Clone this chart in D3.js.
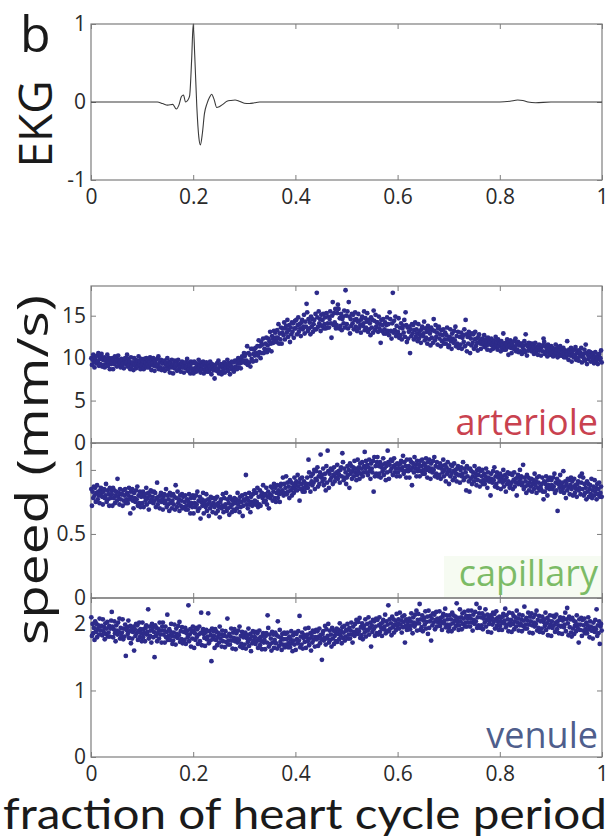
<!DOCTYPE html>
<html><head><meta charset="utf-8">
<script src="https://cdn.jsdelivr.net/npm/d3@7"></script>
<style>body{margin:0;background:#fff}svg{display:block}text{font-family:"Open Sans",sans-serif}</style>
</head><body>
<svg id="chart" width="610" height="838"></svg>
<script>
// ---------- data ----------
const xTicks = [0, 0.2, 0.4, 0.6, 0.8, 1];
const xTickLabels = ["0", "0.2", "0.4", "0.6", "0.8", "1"];
const ekgTicks = [-1, 0, 1];
const arterioleTicks = [0, 5, 10, 15];
const capillaryTicks = [0, 0.5, 1];
const venuleTicks = [0, 1, 2];

const ekgPhase = [0, 0.10, 0.13, 0.14, 0.15, 0.16, 0.167, 0.172, 0.177, 0.181, 0.185, 0.189, 0.193, 0.197, 0.200, 0.203, 0.207, 0.211, 0.214, 0.218, 0.222, 0.227, 0.232, 0.236, 0.241, 0.246, 0.251, 0.258, 0.266, 0.274, 0.282, 0.29, 0.30, 0.31, 0.32, 0.33, 0.36, 0.5, 0.7, 0.8, 0.82, 0.835, 0.845, 0.855, 0.87, 0.9, 1.0];
const ekgValue = [0, 0, 0, -0.02, -0.04, -0.03, -0.09, -0.04, 0.07, 0.09, 0.0, 0.02, 0.08, 0.55, 1.0, 0.6, -0.05, -0.45, -0.55, -0.4, -0.15, -0.02, 0.06, 0.1, 0.03, -0.07, -0.06, -0.03, 0.01, 0.02, 0.025, 0.01, -0.015, -0.02, -0.01, 0, 0, 0, 0, 0, 0.01, 0.025, 0.02, 0.0, -0.01, 0, 0];

// speed samples (mm/s), one row per 1/50 of the heart cycle
const arterioleSpeed = [
[10.0,9.2,9.8,10.4,9.5,8.9,10.1,9.7,9.4,10.3,9.6,10.6,9.1,9.9,9.3,10.2],
[10.5,9.0,9.8,9.2,10.1,8.9,9.7,9.9,9.4,10.4,9.1,9.6,10.0,8.7,9.8,9.3],
[9.6,10.0,8.7,9.8,9.3,10.2,9.5,10.1,9.0,9.7,10.3,9.2,9.8,9.5,8.9,9.9],
[9.1,9.7,9.4,8.8,9.8,10.0,9.3,9.5,10.4,9.0,9.9,9.2,9.6,8.7,10.1,9.3],
[9.1,9.5,8.6,10.0,9.2,9.8,8.8,9.4,9.7,9.0,10.2,9.3,9.6,8.7,9.9,9.1],
[9.3,9.6,8.7,9.9,9.1,9.5,10.0,8.9,9.2,9.7,8.9,9.5,10.1,9.2,8.6,9.8],
[9.4,10.0,9.1,8.5,9.7,9.3,9.0,9.9,9.2,10.2,8.7,9.5,8.9,9.8,8.6,9.4],
[9.4,8.8,9.7,8.5,9.3,9.5,9.0,10.0,8.7,9.2,9.6,8.3,9.4,8.9,9.8,9.1],
[8.2,9.3,8.8,9.7,9.0,9.6,8.5,9.2,9.8,8.7,9.3,9.0,8.4,9.4,9.6,8.9],
[8.9,8.3,9.3,9.5,8.8,9.0,9.9,8.5,9.4,8.7,9.1,8.2,9.6,8.8,9.4,8.4],
[8.2,9.6,8.8,9.4,8.4,9.0,9.3,8.6,9.8,8.9,9.2,8.3,9.5,8.7,9.1,9.6],
[8.2,9.4,8.6,9.0,9.5,8.4,8.7,9.2,8.4,9.0,9.6,8.7,8.1,9.3,8.9,8.6],
[8.6,7.6,9.2,8.8,8.5,9.4,8.7,9.7,8.2,9.0,8.4,9.3,8.1,8.9,9.1,8.6],
[9.5,8.3,9.1,9.3,8.8,9.8,8.5,9.0,9.4,8.1,9.2,8.7,9.6,8.9,9.5,8.4],
[8.8,9.7,9.0,9.6,8.7,9.4,10.0,8.9,9.7,9.4,8.8,9.8,10.2,9.5,9.7,10.6],
[10.2,10.5,9.4,9.7,11.4,9.2,10.6,9.5,10.4,9.0,11.1,9.9,11.1,9.6,10.5,11.0],
[10.3,11.2,9.7,10.6,11.4,10.3,12.1,10.7,11.4,10.0,11.9,10.6,11.6,12.3,10.6,11.1],
[11.0,11.7,12.4,10.7,11.5,12.3,11.0,12.0,13.1,11.7,10.8,12.6,12.3,11.8,13.2,12.1],
[13.0,12.4,11.9,13.3,12.4,14.0,11.7,12.9,12.2,13.6,11.7,13.0,13.5,12.7,14.2,12.2],
[13.5,13.8,13.0,14.5,12.5,13.3,13.9,11.9,13.6,12.8,14.2,13.1,14.1,12.4,13.5,14.4],
[13.5,14.5,12.8,13.9,14.8,13.1,14.0,13.5,12.6,14.2,14.5,13.4,13.7,15.1,12.9,14.3],
[13.7,16.4,15.4,13.2,14.6,13.5,14.2,12.8,14.9,13.7,14.6,13.1,14.0,14.5,13.4,15.2],
[13.4,17.7,14.8,13.7,15.5,14.1,14.6,13.2,15.1,13.8,14.5,15.2,13.5,14.0,14.8,13.5],
[15.3,13.6,14.1,14.9,13.6,14.6,15.5,14.1,12.4,15.0,16.6,13.9,15.3,14.2,15.8,13.5],
[13.9,15.3,16.3,15.8,13.5,14.7,13.8,15.2,13.3,14.6,14.9,14.1,15.6,13.6,18.0,15.0],
[14.0,15.5,13.5,16.6,14.9,12.9,14.6,13.8,15.2,14.1,15.1,13.4,14.5,15.4,13.7,14.6],
[13.2,14.3,15.2,13.5,14.4,13.9,13.0,14.6,14.9,13.8,14.1,15.5,13.3,14.7,13.6,14.3],
[15.3,13.1,14.5,13.4,14.1,12.7,14.8,13.6,14.5,13.0,15.6,14.4,13.3,15.1,13.7,14.2],
[14.2,13.1,14.9,13.5,14.0,11.8,14.5,13.2,13.9,14.6,12.9,13.4,14.2,12.9,13.9,14.8],
[13.2,14.0,12.7,15.4,14.6,13.2,12.3,14.1,17.7,13.0,14.4,13.3,14.9,12.6,13.8,12.9],
[13.1,14.7,12.4,13.6,12.7,14.1,12.2,13.5,13.8,13.0,14.5,12.5,15.4,13.9,11.9,13.6],
[12.3,13.1,13.7,10.6,13.4,12.6,14.0,12.9,13.9,12.2,13.3,14.2,12.5,13.4,12.9,12.0],
[14.0,12.3,13.2,12.7,11.8,13.4,13.7,12.6,12.9,14.3,12.1,13.5,12.4,13.1,11.7,13.8],
[13.3,12.2,12.9,11.5,13.6,12.4,13.3,11.8,14.6,13.2,12.1,13.9,12.5,13.0,11.6,13.5],
[13.7,12.3,12.8,11.4,13.3,12.0,12.7,13.4,11.7,12.2,13.0,11.7,12.7,13.6,12.2,11.3],
[11.5,12.5,13.4,12.0,11.1,12.9,12.3,11.8,13.2,12.1,13.7,11.4,12.6,11.7,13.1,11.2],
[11.3,12.5,11.6,13.0,11.1,12.4,12.7,11.9,13.4,11.4,14.5,12.8,10.8,12.5,11.7,13.1],
[12.6,10.6,12.3,11.5,12.9,11.8,12.8,11.1,12.2,13.1,11.4,12.3,11.8,10.9,12.5,12.8],
[12.0,11.7,11.1,12.1,12.3,11.6,11.8,12.7,11.3,12.2,11.5,11.9,11.0,12.4,11.6,12.2],
[11.8,10.9,12.3,11.5,12.1,11.1,11.7,12.0,11.3,12.5,11.6,11.9,11.0,12.2,11.4,11.8],
[11.7,10.8,12.0,11.2,11.6,12.9,11.0,11.3,11.8,11.0,11.6,12.2,11.3,10.4,11.9,11.5],
[12.1,11.2,10.6,11.8,11.4,11.1,12.0,11.3,12.3,10.8,11.6,11.0,11.9,10.7,11.5,11.7],
[10.8,11.7,10.5,11.3,11.5,11.0,12.0,10.7,12.8,11.6,10.3,11.4,10.9,11.8,11.1,11.7],
[11.3,10.8,11.7,11.0,11.6,10.5,11.2,11.8,10.7,11.3,11.0,10.4,11.4,11.6,10.9,11.1],
[10.3,11.3,11.5,10.8,12.3,11.9,10.5,11.4,10.7,11.1,10.2,11.6,10.8,11.4,10.4,11.0],
[11.4,10.6,11.2,10.2,10.8,11.1,10.4,11.6,10.7,11.0,10.1,11.3,10.5,10.9,11.4,10.3],
[11.1,10.3,10.7,11.2,10.1,10.4,10.9,10.1,10.7,12.0,10.4,9.8,11.0,10.6,10.3,11.2],
[9.6,10.8,10.4,10.1,11.0,10.3,11.3,9.8,10.6,10.0,10.9,9.7,10.5,10.7,10.2,11.2],
[9.5,10.3,10.5,10.0,11.0,9.7,11.6,10.6,9.3,10.4,9.9,10.8,10.1,10.7,9.6,10.3],
[10.6,9.9,10.5,9.4,10.1,10.7,9.6,10.2,9.9,9.3,10.3,10.5,9.8,10.0,10.9,9.5]
];

const capillarySpeed = [
[.85,.72,.83,.78,.87,.80,.86,.75,.82,.88,.77,.83,.80,.74,.84,.86],
[.82,.79,.73,.83,.85,.78,.80,.89,.75,.84,.77,.81,.72,.86,.78,.84],
[.81,.72,.86,.78,.84,.74,.80,.83,.76,.93,.79,.82,.73,.85,.77,.81],
[.81,.72,.84,.76,.80,.85,.74,.77,.82,.74,.80,.86,.77,.66,.83,.79],
[.85,.76,.70,.82,.78,.75,.84,.77,.87,.72,.80,.74,.83,.71,.79,.81],
[.74,.83,.71,.79,.81,.76,.86,.73,.78,.82,.69,.80,.75,.84,.77,.83],
[.79,.74,.83,.76,.82,.71,.78,.90,.73,.79,.76,.70,.80,.82,.75,.77],
[.69,.79,.81,.74,.76,.85,.71,.80,.73,.77,.68,.82,.74,.80,.70,.76],
[.81,.73,.79,.69,.88,.78,.71,.83,.74,.77,.68,.80,.72,.76,.81,.70],
[.79,.71,.75,.80,.69,.72,.77,.69,.75,.81,.72,.66,.78,.74,.71,.80],
[.66,.78,.74,.71,.80,.73,.83,.68,.76,.70,.79,.62,.75,.77,.72,.82],
[.66,.74,.76,.71,.81,.68,.73,.77,.64,.75,.70,.79,.72,.78,.67,.74],
[.78,.71,.77,.66,.73,.79,.68,.74,.71,.63,.75,.77,.70,.72,.81,.67],
[.78,.71,.73,.82,.68,.77,.70,.74,.65,.79,.71,.77,.67,.73,.76,.69],
[.78,.68,.74,.77,.70,.82,.73,.76,.67,.79,.71,.75,.80,.64,.72,.77],
[.76,.81,.96,.73,.78,.70,.76,.82,.73,.67,.79,.75,.72,.81,.74,.84],
[.76,.73,.82,.75,.86,.71,.79,.73,.84,.72,.80,.82,.78,.88,.75,.80],
[.81,.76,.86,.73,.79,.83,.70,.81,.78,.87,.80,.86,.76,.83,.89,.78],
[.86,.75,.82,.88,.78,.84,.81,.75,.87,.89,.82,.84,.94,.80,.89,.82],
[.86,.95,.81,.90,.83,.87,.78,.92,.84,.90,.80,.86,.89,.82,.94,.85],
[.88,.91,.84,.96,.87,.90,.76,.93,.85,.89,.94,.83,.86,.91,.83,.89],
[.86,.89,.94,.86,1.08,.98,.89,.83,.95,.91,.88,.97,.90,1.00,.85,.93],
[.99,.92,1.02,.87,.95,.89,.98,1.12,.94,.96,.91,1.01,.88,.93,.97,.84],
[1.03,.90,1.15,.99,.86,.97,.92,1.01,.94,1.00,.89,.96,1.02,.91,.97,.94],
[.98,1.04,.93,.99,.96,.90,1.00,1.02,.95,1.13,1.06,.92,1.01,.94,.98,.89],
[.94,1.03,.96,1.00,.86,1.05,.97,1.03,.93,.99,1.02,.95,1.07,.98,1.01,.92],
[.96,1.08,.99,1.02,.93,1.05,.97,1.01,1.06,.95,.98,1.03,1.14,1.01,1.07,.98],
[1.04,.96,1.02,1.08,.99,.93,1.05,1.01,.98,1.07,.83,1.10,.95,1.03,.97,1.06],
[1.10,.95,1.03,.97,1.06,.94,1.02,1.04,.99,1.09,.96,1.01,1.05,.92,1.03,.98],
[1.15,1.06,.93,1.04,.99,1.08,1.01,1.07,.96,1.03,1.09,.98,1.04,1.01,.95,1.05],
[.98,1.04,1.01,.95,1.05,1.07,1.00,1.02,1.11,.97,1.06,.99,1.03,.94,1.08,1.00],
[.99,1.03,.94,1.08,1.00,1.06,.88,1.02,1.05,.98,1.10,1.01,1.04,.95,1.07,.99],
[1.01,1.04,.95,1.07,.99,1.03,1.08,.97,1.00,1.05,.97,1.03,1.09,1.00,.94,1.06],
[1.02,1.08,.99,.93,1.05,1.01,.98,1.07,1.00,1.10,.95,1.03,.97,1.06,.94,1.02],
[1.02,.96,1.05,.93,1.01,1.03,.98,1.08,.95,1.00,1.04,.91,1.02,.97,1.06,.99],
[.89,1.00,.95,1.04,.97,1.03,.92,.99,1.05,.94,1.00,.97,.91,1.01,1.03,.96],
[.96,.90,1.00,1.02,.95,.97,1.06,.92,1.01,.94,.98,.84,1.03,.95,1.01,.91],
[.83,1.01,.93,.99,.89,.95,.98,.91,1.03,.94,.97,.88,1.00,.92,.96,1.01],
[.87,.99,.91,.95,1.00,.89,.92,.97,.89,.95,1.01,.92,.86,.98,.94,.91],
[.91,.80,.97,.93,.90,.99,.92,1.02,.87,.95,.89,.98,.86,.94,.96,.91],
[.97,.85,.93,.95,.90,1.00,.87,.92,.96,.83,.94,.89,.98,.91,.97,.86],
[.88,.97,.90,.96,.85,.92,.98,.87,.93,.90,.80,.94,.96,.89,.91,1.00],
[.93,.95,.88,.90,1.04,.85,.94,.87,.91,.82,.96,.88,.94,.84,.90,.93],
[.87,.93,.83,.89,.92,.85,.97,.88,.91,.82,.94,.86,.90,.95,.84,.87],
[.85,.89,.94,.83,.77,.91,.83,.89,.95,.86,.80,.92,.88,.85,.94,.87],
[.92,.88,.85,.94,.87,.97,.82,.90,.84,.93,.68,.89,.91,.86,.96,.83],
[.88,.90,.85,.99,.82,.87,.91,.78,.89,.84,.93,.86,.92,.81,.88,.94],
[.85,.91,.80,.87,.93,.82,.88,.85,.79,.89,.91,.84,.86,.95,.81,.90],
[.97,.85,.94,.80,.89,.82,.86,.77,.91,.83,.89,.79,.85,.88,.81,.93],
[.78,.84,.87,.80,.92,.83,.86,.77,.89,.81,.85,.90,.79,.82,.87,.79]
];

const venuleSpeed = [
[2.10,1.82,2.00,1.86,1.94,1.76,2.04,1.88,2.00,1.80,1.92,1.98,1.84,2.08,1.90,1.96],
[1.97,1.83,2.07,1.89,1.95,1.77,2.01,1.85,1.93,2.03,1.81,1.87,1.97,1.81,1.93,2.05],
[2.18,1.96,1.80,1.92,2.04,1.86,1.74,1.98,1.90,1.84,2.02,1.88,2.08,1.78,1.94,1.82],
[1.87,2.07,1.77,1.93,1.81,1.99,1.52,1.91,1.95,1.85,2.05,1.79,1.89,1.97,1.71,1.93],
[1.78,1.88,1.96,1.60,1.92,1.82,2.00,1.86,1.98,1.76,1.90,2.02,1.80,1.92,1.86,1.74],
[2.02,1.80,1.92,1.86,1.74,1.94,1.98,1.84,1.88,2.22,1.78,1.96,1.82,1.90,1.72,2.00],
[1.94,1.80,1.88,1.50,1.98,1.82,1.94,1.74,1.86,1.92,1.78,2.02,1.84,1.90,1.72,1.96],
[2.02,1.84,1.90,1.72,1.96,1.80,1.88,2.14,1.76,1.82,1.92,1.76,1.88,2.00,1.82,1.70],
[1.75,1.87,1.99,1.81,1.69,1.93,1.85,1.79,1.97,1.83,2.03,1.73,1.89,1.77,1.95,1.71],
[1.72,1.88,1.76,1.94,1.70,1.86,1.90,1.80,2.28,1.74,1.84,1.92,1.66,1.88,1.78,1.96],
[1.90,1.64,1.86,1.76,1.94,1.80,1.92,1.70,1.84,1.96,1.74,1.86,2.17,1.68,1.88,1.92],
[1.85,1.79,1.67,1.87,1.91,1.77,1.81,2.16,1.71,1.89,1.75,1.83,1.44,1.93,1.77,1.89],
[1.82,1.64,1.92,1.76,1.88,1.68,1.80,1.86,1.72,1.96,1.78,1.84,1.66,1.90,1.74,1.82],
[1.83,1.65,1.89,1.73,1.81,2.08,1.69,1.75,1.85,1.69,1.81,1.93,1.75,1.63,1.87,1.79],
[1.92,1.74,1.62,1.86,1.78,1.72,1.90,1.76,1.96,1.66,1.82,1.70,1.88,1.64,1.80,1.84],
[1.69,1.87,1.63,1.79,1.83,1.73,1.93,1.67,1.77,1.85,1.59,1.81,1.71,1.89,1.75,1.87],
[1.80,1.70,1.88,1.74,1.86,1.64,1.78,1.90,1.68,1.80,1.74,1.62,1.82,1.86,1.72,1.76],
[1.62,1.82,1.86,1.72,2.13,1.94,1.66,1.84,1.70,1.78,1.60,1.88,1.72,1.84,1.64,1.76],
[1.87,1.71,1.83,1.63,2.04,1.81,1.67,1.91,1.73,1.79,1.61,1.85,1.69,1.77,1.87,1.65],
[1.85,1.69,1.77,1.87,1.65,1.71,1.81,1.65,1.77,1.89,1.71,1.59,1.83,1.75,1.69,1.87],
[1.61,1.85,1.77,1.71,1.89,1.75,2.12,1.65,1.81,1.69,1.87,1.63,1.79,1.83,1.73,1.93],
[1.64,1.80,1.84,1.74,1.94,1.68,1.78,1.86,1.60,1.82,1.72,1.90,1.76,1.88,1.66,1.80],
[1.91,1.77,1.89,1.67,1.81,1.93,1.71,1.83,1.77,1.46,1.85,1.89,1.75,1.79,1.97,1.69],
[1.92,1.78,1.82,2.00,1.72,1.90,1.76,1.84,1.66,1.94,1.78,1.90,1.70,1.82,1.88,1.74],
[1.93,1.73,1.85,1.91,1.77,2.01,1.83,1.89,1.71,1.95,1.79,1.87,1.97,1.75,1.81,1.91],
[1.90,2.00,1.78,1.84,1.94,1.78,1.90,2.02,1.84,1.72,1.96,1.88,1.82,2.00,1.86,2.06],
[1.91,1.85,2.03,1.89,2.09,1.79,1.95,1.83,2.01,1.77,1.93,1.97,1.87,2.07,1.81,1.91],
[2.00,1.90,2.10,1.84,1.94,2.02,1.66,1.98,1.88,2.06,1.92,2.04,1.82,1.96,2.08,1.86],
[2.06,1.84,1.98,2.10,1.88,2.00,1.94,1.82,2.02,2.06,1.92,1.96,2.14,1.86,2.04,1.90],
[1.99,2.28,1.89,2.07,1.93,2.01,1.83,2.11,1.95,2.07,1.87,1.99,2.05,1.91,2.15,1.97],
[2.01,2.07,1.93,2.17,1.99,2.05,1.87,2.11,1.95,2.03,2.13,1.72,1.97,2.07,1.91,2.03],
[1.92,1.98,2.08,1.92,2.04,2.16,1.98,1.86,2.10,2.02,1.96,2.14,2.00,2.20,1.90,2.06],
[2.15,2.01,2.30,1.91,2.07,1.95,2.13,1.89,2.05,2.09,1.99,2.19,1.93,2.03,2.11,1.85],
[2.20,1.94,2.04,2.12,1.75,2.08,1.98,2.16,2.02,2.14,1.92,2.06,2.18,1.96,2.08,2.02],
[2.07,2.19,1.97,2.09,2.03,1.91,2.11,2.15,2.01,2.05,2.23,1.95,2.13,1.99,2.07,1.89],
[1.95,2.13,1.99,2.07,1.89,2.17,2.01,2.13,1.93,2.05,2.11,1.97,2.31,2.03,2.09,1.91],
[1.98,2.22,2.04,2.10,1.92,2.16,2.00,2.08,2.18,1.96,2.02,2.12,1.96,2.08,2.20,2.02],
[2.12,1.96,2.08,2.20,2.02,1.90,2.14,2.06,2.00,2.18,2.04,2.30,1.94,2.10,1.98,2.16],
[2.24,1.94,2.10,1.98,2.16,1.92,2.08,2.12,2.02,2.22,1.96,2.06,2.14,1.88,2.10,2.00],
[2.05,2.13,1.87,2.09,1.99,2.17,2.03,2.15,1.93,2.07,2.19,1.97,2.09,2.03,1.91,2.11],
[1.97,2.09,2.03,1.91,2.11,2.15,2.01,2.05,2.23,1.95,2.13,1.99,2.07,1.89,2.17,2.01],
[1.98,2.06,1.88,2.16,2.00,2.12,1.92,2.04,2.10,1.96,2.20,2.02,2.08,1.90,2.14,1.98],
[2.01,2.07,1.89,2.13,1.97,2.05,2.26,1.93,1.99,2.09,1.93,2.05,2.17,1.99,1.87,2.11],
[2.04,2.16,1.98,1.86,2.10,2.02,1.96,2.14,2.00,2.20,1.90,2.06,1.94,2.12,1.88,2.04],
[2.05,1.93,2.11,1.87,2.03,2.07,1.97,2.17,1.91,2.01,2.09,1.83,2.05,1.95,2.13,1.99],
[1.82,2.04,1.94,2.12,1.98,2.10,1.88,2.02,2.14,1.92,2.04,1.98,1.86,2.06,2.10,1.96],
[1.97,1.85,2.05,2.09,1.95,1.99,2.17,1.89,2.07,2.24,2.01,1.83,2.11,1.95,2.07,1.87],
[1.81,2.09,1.93,2.05,1.85,1.97,2.03,1.89,2.13,1.95,1.99,1.72,2.07,1.91,1.99,2.09],
[1.82,2.06,1.90,1.98,2.08,1.86,1.92,2.02,1.86,1.98,2.10,1.92,1.80,2.04,1.96,1.90],
[1.90,1.78,2.02,1.94,1.88,2.06,1.92,2.22,1.82,1.98,1.86,2.04,1.70,1.96,2.00,1.90]
];

// ---------- layout ----------
const svg = d3.select("#chart");
const L = 91, R = 602;
const x = d3.scaleLinear().domain([0, 1]).range([L, R]);
const frameColor = "#7d7d7d";
const tickTextColor = "#2a2a2a";
const dotColor = "#2d2b8a";

function frame(top, bottom, yScale, yTicks, yFmt, showX) {
  const g = svg.append("g");
  const ax = g.append("g").attr("transform", `translate(0,${bottom})`)
    .call(d3.axisBottom(x).tickValues(xTicks).tickSize(-5).tickPadding(9)
      .tickFormat((d, i) => showX ? xTickLabels[i] : ""));
  const axTop = g.append("g").attr("transform", `translate(0,${top})`)
    .call(d3.axisTop(x).tickValues(xTicks).tickSize(-5).tickFormat(""));
  const ay = g.append("g").attr("transform", `translate(${L},0)`)
    .call(d3.axisLeft(yScale).tickValues(yTicks).tickSize(-5).tickPadding(5).tickFormat(yFmt));
  const ayR = g.append("g").attr("transform", `translate(${R},0)`)
    .call(d3.axisRight(yScale).tickValues(yTicks).tickSize(-5).tickFormat(""));
  [ax, axTop, ay, ayR].forEach(a => {
    a.select(".domain").remove();
    a.selectAll("line").attr("stroke", frameColor).attr("stroke-width", 1);
    a.selectAll("text").attr("fill", tickTextColor).style("font-size", "21px")
      .style("font-family", '"Open Sans", sans-serif');
  });
  g.append("rect").attr("x", L).attr("y", top).attr("width", R - L).attr("height", bottom - top)
    .attr("fill", "none").attr("stroke", frameColor).attr("stroke-width", 1.2);
  return g;
}

// ---------- EKG panel ----------
const ekgTop = 24, ekgBottom = 180;
const yEkg = d3.scaleLinear().domain([-1, 1]).range([ekgBottom, ekgTop]);
frame(ekgTop, ekgBottom, yEkg, ekgTicks, d => String(d), true);
const ekgPts = ekgPhase.map((t, i) => [t, ekgValue[i]]);
svg.append("path").datum(ekgPts)
  .attr("d", d3.line().x(d => x(d[0])).y(d => yEkg(d[1])).curve(d3.curveMonotoneX))
  .attr("fill", "none").attr("stroke", "#3a3a3a").attr("stroke-width", 1.1);

svg.append("text").attr("x", 20).attr("y", 52).text("b")
  .style("font-size", "50px").attr("fill", "#1a1a1a");
svg.append("text").attr("transform", "translate(52,124) rotate(-90)")
  .attr("text-anchor", "middle").text("EKG")
  .style("font-size", "46px").attr("fill", "#1a1a1a");

// ---------- speed panels ----------
const panels = [
  { name: "arteriole", rows: arterioleSpeed, top: 286, bottom: 443, max: 18.5, ticks: arterioleTicks,
    color: "#c9424f", labelY: 435, bg: null },
  { name: "capillary", rows: capillarySpeed, top: 443, bottom: 598, max: 1.21, ticks: capillaryTicks,
    color: "#7cbb66", labelY: 586, bg: "#f6fbf2" },
  { name: "venule", rows: venuleSpeed, top: 598, bottom: 757, max: 2.39, ticks: venuleTicks,
    color: "#4f5e8c", labelY: 748, bg: null }
];

panels.forEach((p, pi) => {
  const y = d3.scaleLinear().domain([0, p.max]).range([p.bottom, p.top]);
  if (p.bg) {
    svg.append("rect").attr("x", 444).attr("y", p.labelY - 30).attr("width", R - 445).attr("height", p.bottom - p.labelY + 29)
      .attr("fill", p.bg);
  }
  frame(p.top, p.bottom, y, p.ticks, d => String(d), pi === panels.length - 1);
  const nBins = p.rows.length;
  const pts = p.rows.flatMap((row, k) => row.map((v, j) => ({ t: (k + (j + 0.5) / row.length) / nBins, v })));
  svg.append("g").selectAll("circle").data(pts).join("circle")
    .attr("cx", d => x(d.t)).attr("cy", d => y(d.v)).attr("r", 2.4)
    .attr("fill", dotColor);
  svg.append("text").attr("x", R - 4).attr("y", p.labelY).attr("text-anchor", "end")
    .text(p.name).style("font-size", "36px").attr("fill", p.color);
});

svg.append("text").attr("transform", "translate(48,470) rotate(-90)")
  .attr("text-anchor", "middle").attr("textLength", 350).attr("lengthAdjust", "spacingAndGlyphs")
  .text("speed (mm/s)")
  .style("font-size", "44px").attr("fill", "#1a1a1a");

svg.append("text").attr("x", 305).attr("y", 829).attr("text-anchor", "middle")
  .attr("textLength", 604).attr("lengthAdjust", "spacingAndGlyphs")
  .text("fraction of heart cycle period")
  .style("font-size", "42px").style("font-family", "Lato, sans-serif").attr("fill", "#1a1a1a");
</script>
</body></html>
